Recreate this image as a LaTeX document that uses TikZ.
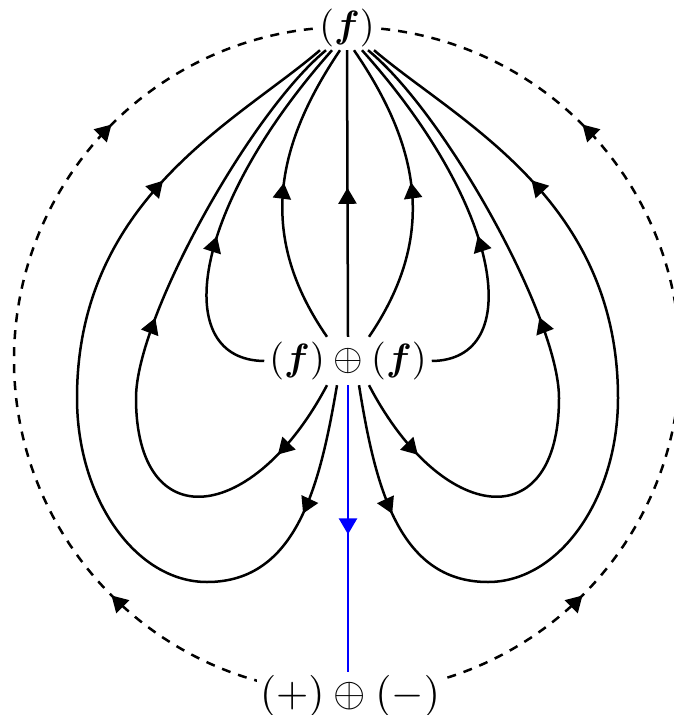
\documentclass[tikz,border=0pt]{standalone}
\usepackage{graphicx}
\usepackage{bm}
\usetikzlibrary{arrows.meta,decorations.markings}
\newcommand{\bigtxt}[1]{\scalebox{3.8}{#1}}
\newcommand{\hugetxt}[1]{\scalebox{4.15}{#1}}
\tikzset{
  myTri/.tip={Triangle[length=16pt,width=18pt]},
  lbl/.style={fill=white},
  flow/.style={line width=2.5pt},
  onearr/.style={postaction={decorate},decoration={markings,mark=at position #1 with {\arrow{myTri}}}},
  twoarr/.style 2 args={postaction={decorate},decoration={markings,
      mark=at position #1 with {\arrow{myTri}},
      mark=at position #2 with {\arrow{myTri}}}},
  orbit/.style={line width=2.5pt, dash pattern=on 9pt off 8pt}
}
\begin{document}
\begin{tikzpicture}[x=1pt,y=-1pt]
\useasboundingbox (0,0) rectangle (674,715);
\coordinate (C) at (347,360);
% dashed circle
\draw[orbit, twoarr={0.25}{0.75}] (C) ++(0,333) arc[start angle=-90, end angle=-270, radius=333pt];
\draw[orbit, twoarr={0.25}{0.75}] (C) ++(0,333) arc[start angle=-90, end angle=90, radius=333pt];
% nodes
\node[lbl, inner sep=3pt] (T) at (347,28) {\bigtxt{$(\bm{f})$}};
\node[lbl, inner sep=5pt] (M) at (348,361) {\bigtxt{$(\bm{f}) \oplus (\bm{f})$}};
\node[lbl, inner sep=3pt] (B) at (350,696) {\hugetxt{$(+) \oplus (-)$}};
% central line
\draw[flow, onearr=0.52] (M.north) -- (T.south);
\draw[flow, blue, onearr=0.52] (M.south) -- (M.south |- B.north);
% left side
\draw[flow, onearr=0.53] ([xshift=-21pt]M.north) .. controls (258,237) and (274,148) .. ([xshift=-7pt]T.south);
\draw[flow, onearr=0.42] (M.west) .. controls (170,360) and (190,210) .. ([xshift=-15pt]T.south);
\draw[flow, twoarr={0.12}{0.55}] ([xshift=-21pt]M.south) .. controls (253,525) and (136,538) .. (136,398)
   .. controls (136,318) and (250,113) .. ([xshift=-21pt]T.south);
\draw[flow, twoarr={0.14}{0.785}] ([xshift=-11pt]M.south) .. controls (320,485) and (297,582) .. (207,582)
   .. controls (136,582) and (77,499) .. (77,398)
   .. controls (77,198) and (238,121) .. ([xshift=-27pt]T.south);
% right side
\draw[flow, onearr=0.53] ([xshift=21pt]M.north) .. controls (437,237) and (421,148) .. ([xshift=7pt]T.south);
\draw[flow, onearr=0.42] (M.east) .. controls (525,360) and (505,210) .. ([xshift=15pt]T.south);
\draw[flow, twoarr={0.12}{0.55}] ([xshift=21pt]M.south) .. controls (442,525) and (559,538) .. (559,398)
   .. controls (559,318) and (445,113) .. ([xshift=21pt]T.south);
\draw[flow, twoarr={0.14}{0.785}] ([xshift=11pt]M.south) .. controls (375,485) and (398,582) .. (488,582)
   .. controls (559,582) and (618,499) .. (618,398)
   .. controls (618,198) and (457,121) .. ([xshift=27pt]T.south);
\end{tikzpicture}
\end{document}
